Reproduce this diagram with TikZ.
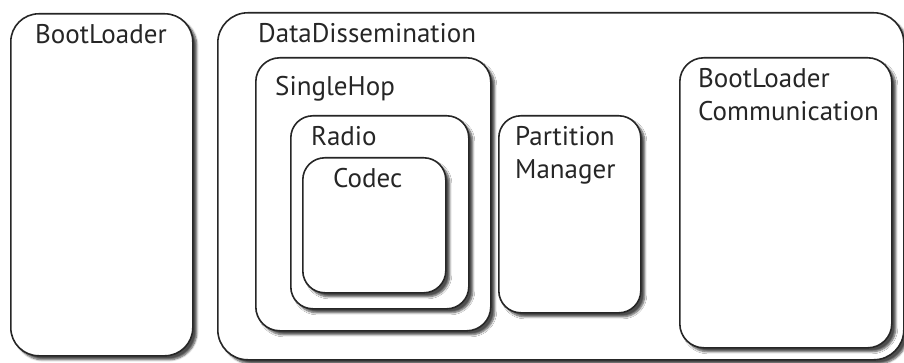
\documentclass[tikz,border=0pt]{standalone}
\usepackage{fontspec}
\setmainfont{PT Sans}
\usetikzlibrary{positioning,shadows.blur}
\tikzset{
  box/.style={draw=black!85,line width=1.6pt,fill=white,rounded corners=#1,
    anchor=north west,inner sep=0pt,
    blur shadow={shadow xshift=4pt,shadow yshift=-4pt,shadow blur steps=6,shadow opacity=70}},
  box/.default=22pt,
  lbl/.style={anchor=north west,inner sep=0pt,align=left,
    font=\fontsize{27}{33}\selectfont,text=black!85}
}
\begin{document}
\begin{tikzpicture}[x=1pt,y=-1pt]
\useasboundingbox (0,0) rectangle (904,363);
% outer boxes
\node[box=28pt,minimum width=182pt,minimum height=342pt] (boot) at (10,13) {};
\node[box=30pt,minimum width=686pt,minimum height=347pt] (dissem) at (217,12) {};
% second level
\node[box=24pt,minimum width=235pt,minimum height=273pt] (single) at (255,57) {};
\node[box=24pt,minimum width=212pt,minimum height=290pt] (blcomm) at (679,57) {};
% third level
\node[box,minimum width=178pt,minimum height=193pt] (radio) at (290,115) {};
\node[box,minimum width=142pt,minimum height=197pt] (partmgr) at (498,115) {};
\node[box,minimum width=143pt,minimum height=135pt] (codec) at (302,157) {};
% labels
\node[lbl] (bootlbl) at (35,24) {BootLoader};
\node[lbl] (dissemlbl) at (258,23) {DataDissemination};
\node[lbl] (singlelbl) at (275,76) {SingleHop};
\node[lbl] (radiolbl) at (311,126) {Radio};
\node[lbl] (codeclbl) at (333,168) {Codec};
\node[lbl] (partlbl) at (515,126) {Partition\\Manager};
\node[lbl] (blcommlbl) at (698,68) {BootLoader\\Communication};
\end{tikzpicture}
\end{document}
